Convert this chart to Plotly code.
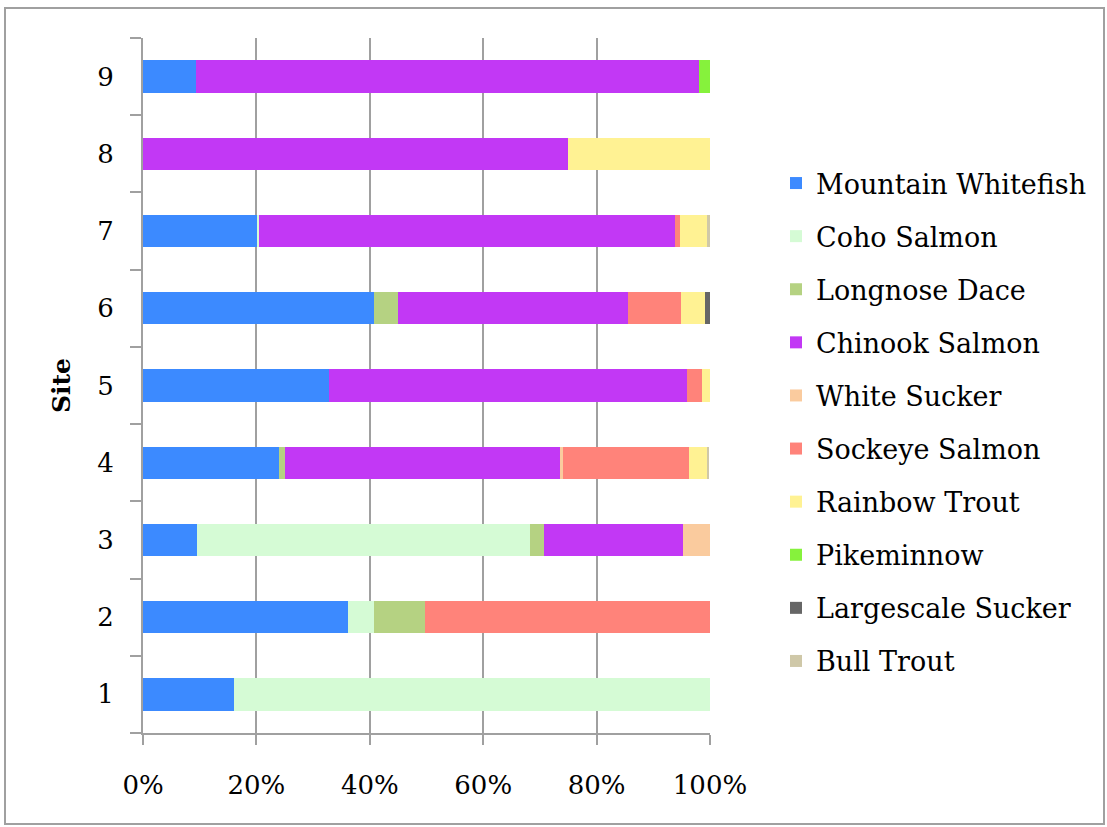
import plotly.graph_objects as go

sites = ["1", "2", "3", "4", "5", "6", "7", "8", "9"]

mountain_whitefish = [16.0, 36.2, 9.6, 24.0, 32.8, 40.7, 20.2, 0.0, 9.4]
coho_salmon        = [84.0, 4.5, 58.6, 0.0, 0.0, 0.0, 0.2, 0.0, 0.0]
longnose_dace      = [0.0, 9.1, 2.5, 1.1, 0.0, 4.3, 0.0, 0.0, 0.0]
chinook_salmon     = [0.0, 0.0, 24.5, 48.5, 63.2, 40.5, 73.5, 75.0, 88.7]
white_sucker       = [0.0, 0.0, 4.8, 0.4, 0.0, 0.0, 0.0, 0.0, 0.0]
sockeye_salmon     = [0.0, 50.2, 0.0, 22.3, 2.5, 9.4, 0.8, 0.0, 0.0]
rainbow_trout      = [0.0, 0.0, 0.0, 3.1, 1.5, 4.3, 4.7, 25.0, 0.0]
pikeminnow         = [0.0, 0.0, 0.0, 0.0, 0.0, 0.0, 0.0, 0.0, 1.9]
largescale_sucker  = [0.0, 0.0, 0.0, 0.0, 0.0, 0.8, 0.0, 0.0, 0.0]
bull_trout         = [0.0, 0.0, 0.0, 0.5, 0.0, 0.0, 0.6, 0.0, 0.0]

series = [
    ("Mountain Whitefish", mountain_whitefish, "#3C8AFF"),
    ("Coho Salmon", coho_salmon, "#D5FBD5"),
    ("Longnose Dace", longnose_dace, "#B5D282"),
    ("Chinook Salmon", chinook_salmon, "#C238F5"),
    ("White Sucker", white_sucker, "#FACB9E"),
    ("Sockeye Salmon", sockeye_salmon, "#FF837A"),
    ("Rainbow Trout", rainbow_trout, "#FFF293"),
    ("Pikeminnow", pikeminnow, "#86F23C"),
    ("Largescale Sucker", largescale_sucker, "#666666"),
    ("Bull Trout", bull_trout, "#CFC8A8"),
]

fig = go.Figure()
for name, vals, color in series:
    fig.add_trace(go.Bar(
        y=sites, x=vals, name=name, orientation="h",
        marker=dict(color=color, line=dict(width=0)),
        legendgroup=name,
    ))

FONT = "DejaVu Serif"
W, H = 1107, 827
L, R, T, B = 143, 397, 38, 94
pw, ph = W - L - R, H - T - B

def px_to_paper_x(px):
    return (px - L) / pw

def px_to_paper_y(py):
    return (H - B - py) / ph

fig.update_layout(
    width=W, height=H,
    margin=dict(l=L, r=R, t=T, b=B, pad=0),
    barmode="stack",
    bargap=0.58,
    paper_bgcolor="white",
    plot_bgcolor="white",
    font=dict(family=FONT, size=26, color="black"),
    xaxis=dict(
        range=[0, 100],
        tickvals=[0, 20, 40, 60, 80, 100],
        ticktext=["0%", "20%", "40%", "60%", "80%", "100%"],
        showgrid=True, gridcolor="#A0A0A0", gridwidth=2,
        showline=True, linecolor="#A0A0A0", linewidth=2,
        ticks="outside", ticklen=10, tickwidth=2, tickcolor="#A0A0A0",
        ticklabelstandoff=18,
        zeroline=False,
        tickfont=dict(family=FONT, size=26, color="black"),
    ),
    yaxis=dict(
        categoryorder="array", categoryarray=sites,
        showgrid=False,
        showline=True, linecolor="#A0A0A0", linewidth=2,
        ticks="outside", tickson="boundaries", ticklen=11, tickwidth=2, tickcolor="#A0A0A0",
        ticklabelstandoff=22,
        tickfont=dict(family=FONT, size=26, color="black"),
        title=dict(text="<b>Site</b>", font=dict(family=FONT, size=25, color="black"), standoff=20),
        zeroline=False,
    ),
    legend=dict(
        x=px_to_paper_x(776), y=px_to_paper_y(159),
        xanchor="left", yanchor="top",
        traceorder="grouped",
        tracegroupgap=15,
        font=dict(family=FONT, size=27, color="black"),
        bgcolor="rgba(0,0,0,0)",
        itemwidth=30,
    ),
    shapes=[dict(
        type="rect", xref="paper", yref="paper",
        x0=px_to_paper_x(5), x1=px_to_paper_x(1104),
        y0=px_to_paper_y(824), y1=px_to_paper_y(8),
        line=dict(color="#A0A0A0", width=2), fillcolor="rgba(0,0,0,0)",
        layer="below",
    )],
)

fig.write_html("out.html")
